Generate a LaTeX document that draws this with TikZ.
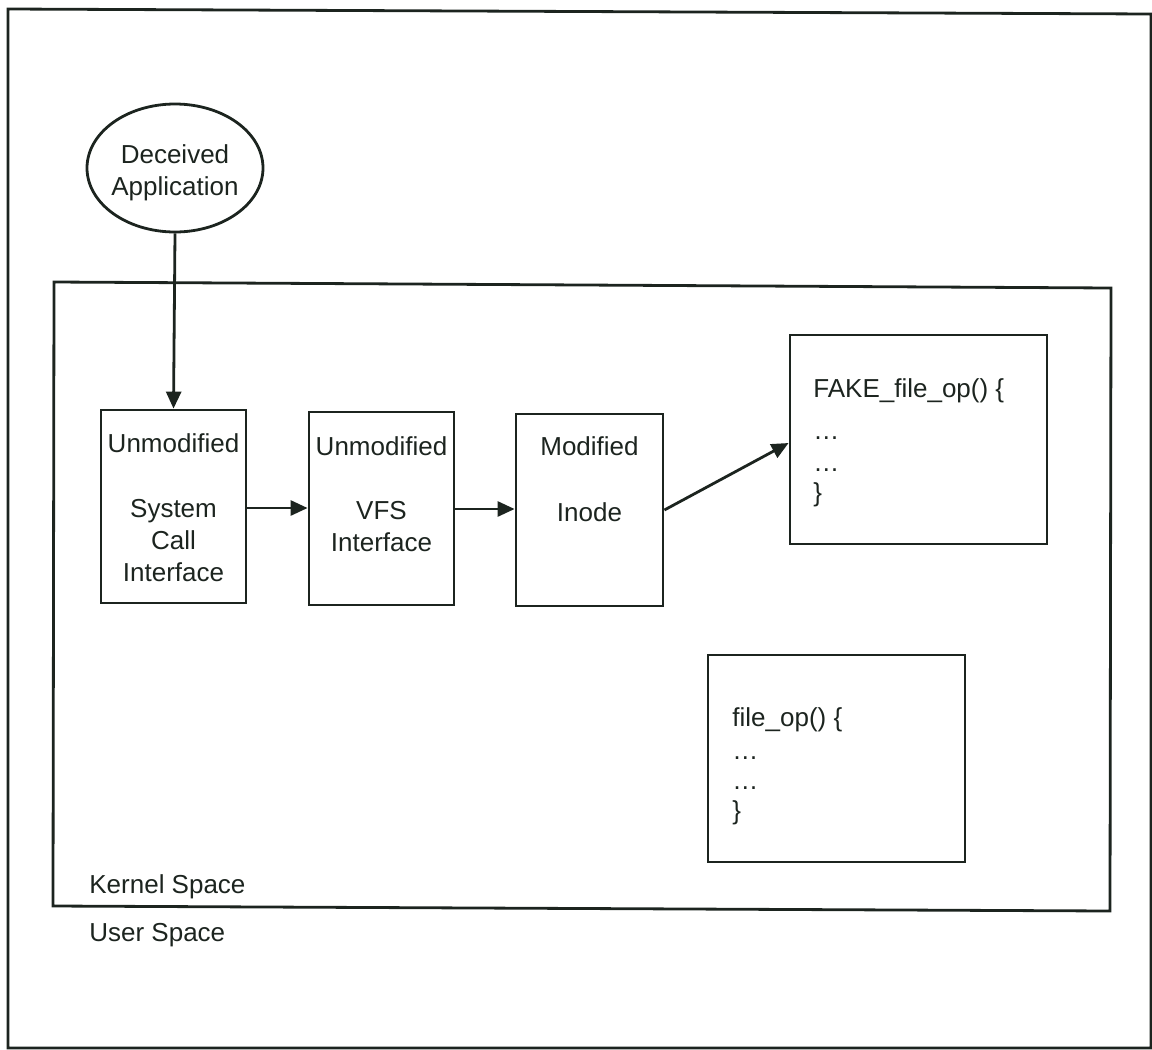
\documentclass[tikz,border=0pt]{standalone}
\usepackage{fontspec}
\setmainfont{Liberation Sans}
\usetikzlibrary{arrows.meta,shapes.geometric}
\definecolor{ink}{RGB}{28,36,31}
\begin{document}
\begin{tikzpicture}[x=1pt,y=-1pt,
  line width=2.8pt, draw=ink, text=ink,
  every node/.style={font=\fontsize{26}{32}\selectfont, text=ink},
  blk/.style={draw=ink, line width=2.8pt, rectangle, inner sep=0pt},
  lbl/.style={inner sep=0pt, anchor=base},
  code/.style={inner sep=0pt, anchor=base west},
  arr/.style={draw=ink, line width=2.8pt, -{Triangle[width=15pt,length=17pt]}}]
\useasboundingbox (0,0) rectangle (1152,1050);
% outer frame (user space)
\draw[ink, line width=2.8pt] (8,9) -- (1151,14) -- (1151,1048) -- (8,1048) -- cycle;
% kernel space frame
\draw[ink, line width=2.8pt] (54,282) -- (1111,288) -- (1110,911) -- (53,906) -- cycle;
\node[lbl, anchor=base west] (kernel) at (88,893) {Kernel Space};
\node[lbl, anchor=base west] (user) at (88,941) {User Space};

% application ellipse
\node[ellipse, draw=ink, line width=2.8pt, minimum width=176pt, minimum height=128pt, inner sep=0pt] (app) at (175,168) {};
\node[lbl] (appt1) at (175,163) {Deceived};
\node[lbl] (appt2) at (175,195) {Application};

% boxes
\node[blk, minimum width=145pt, minimum height=193pt] (sci) at (173.5,506.5) {};
\node[blk, minimum width=145pt, minimum height=193pt] (vfs) at (381.5,508.5) {};
\node[blk, minimum width=147pt, minimum height=192pt] (ino) at (589.5,510) {};
\node[blk, minimum width=257pt, minimum height=209pt] (fake) at (918.5,439.5) {};
\node[blk, minimum width=257pt, minimum height=207pt] (real) at (836.5,758.5) {};

% box texts
\node[lbl] (sci1) at (173.5,452) {Unmodified};
\node[lbl] (sci2) at (173.5,517) {System};
\node[lbl] (sci3) at (173.5,549) {Call};
\node[lbl] (sci4) at (173.5,581) {Interface};
\node[lbl] (vfs1) at (381.5,455) {Unmodified};
\node[lbl] (vfs2) at (381.5,519) {VFS};
\node[lbl] (vfs3) at (381.5,551) {Interface};
\node[lbl] (ino1) at (589.5,455) {Modified};
\node[lbl] (ino2) at (589.5,521) {Inode};

\node[code] (f1) at (812,397) {FAKE\_file\_op() \{};
\node[code] (f2) at (812,439) {…};
\node[code] (f3) at (812,471) {…};
\node[code] (f4) at (812,501) {\}};
\node[code] (r1) at (731,726) {file\_op() \{};
\node[code] (r2) at (731,759) {…};
\node[code] (r3) at (731,789) {…};
\node[code] (r4) at (731,819) {\}};

% connectors
\draw[arr] (app.south) -- (sci.north);
\draw[arr] (sci.east |- 0,508) -- (vfs.west |- 0,508);
\draw[arr] (vfs.east |- 0,509) -- (ino.west |- 0,509);
\coordinate (inoOut) at (ino.east |- 0,510);
\coordinate (fakeIn) at (fake.west |- 0,443);
\draw[arr] (inoOut) -- (fakeIn);
\end{tikzpicture}
\end{document}
